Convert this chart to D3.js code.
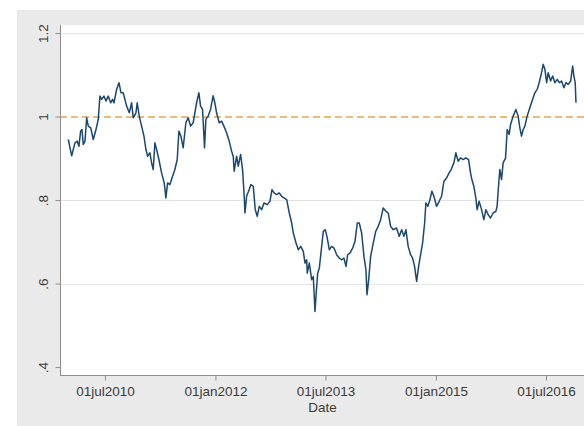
<!DOCTYPE html>
<html>
<head>
<meta charset="utf-8">
<script src="https://cdn.jsdelivr.net/npm/d3@7"></script>
<style>
  html, body { margin: 0; padding: 0; background: #ffffff; }
  svg { display: block; font-family: "Liberation Sans", Arial, sans-serif; }
</style>
</head>
<body>
<svg id="chart" width="584" height="426"></svg>
<script>
// Observation times as fractional years
const obsYears = [
  2009.997, 2010.043, 2010.088, 2010.119, 2010.142, 2010.165, 2010.183, 2010.201, 2010.224, 2010.247,
  2010.269, 2010.302, 2010.337, 2010.374, 2010.405, 2010.428, 2010.451, 2010.482, 2010.510, 2010.541,
  2010.574, 2010.601, 2010.619, 2010.655, 2010.687, 2010.714, 2010.745, 2010.791, 2010.827, 2010.859,
  2010.881, 2010.918, 2010.935, 2010.963, 2010.995, 2011.027, 2011.054, 2011.077, 2011.108, 2011.131,
  2011.153, 2011.176, 2011.199, 2011.231, 2011.267, 2011.303, 2011.326, 2011.349, 2011.380, 2011.417,
  2011.448, 2011.480, 2011.503, 2011.530, 2011.561, 2011.598, 2011.629, 2011.662, 2011.697, 2011.744,
  2011.775, 2011.798, 2011.825, 2011.852, 2011.870, 2011.901, 2011.934, 2011.969, 2011.992, 2012.016,
  2012.051, 2012.084, 2012.115, 2012.152, 2012.187, 2012.220, 2012.242, 2012.255, 2012.288, 2012.310,
  2012.342, 2012.369, 2012.391, 2012.401, 2012.424, 2012.459, 2012.482, 2012.514, 2012.541, 2012.568,
  2012.595, 2012.628, 2012.659, 2012.704, 2012.741, 2012.768, 2012.796, 2012.832, 2012.867, 2012.900,
  2012.931, 2012.968, 2013.003, 2013.036, 2013.058, 2013.095, 2013.126, 2013.159, 2013.194, 2013.217,
  2013.240, 2013.248, 2013.276, 2013.308, 2013.330, 2013.353, 2013.376, 2013.390, 2013.412, 2013.444,
  2013.466, 2013.493, 2013.520, 2013.548, 2013.580, 2013.612, 2013.648, 2013.684, 2013.716, 2013.748,
  2013.775, 2013.798, 2013.829, 2013.866, 2013.898, 2013.929, 2013.956, 2013.988, 2014.020, 2014.047,
  2014.061, 2014.084, 2014.111, 2014.146, 2014.180, 2014.214, 2014.247, 2014.282, 2014.319, 2014.350,
  2014.383, 2014.418, 2014.464, 2014.500, 2014.533, 2014.564, 2014.591, 2014.622, 2014.655, 2014.682,
  2014.709, 2014.737, 2014.764, 2014.791, 2014.818, 2014.846, 2014.863, 2014.890, 2014.918, 2014.945,
  2014.972, 2015.009, 2015.044, 2015.077, 2015.108, 2015.145, 2015.180, 2015.207, 2015.244, 2015.271,
  2015.303, 2015.335, 2015.371, 2015.407, 2015.444, 2015.471, 2015.489, 2015.516, 2015.543, 2015.561,
  2015.588, 2015.621, 2015.652, 2015.680, 2015.711, 2015.743, 2015.779, 2015.816, 2015.833, 2015.852,
  2015.870, 2015.893, 2015.915, 2015.948, 2015.970, 2015.997, 2016.016, 2016.051, 2016.088, 2016.119,
  2016.142, 2016.165, 2016.187, 2016.210, 2016.241, 2016.278, 2016.315, 2016.346, 2016.378, 2016.404,
  2016.437, 2016.459, 2016.482, 2016.506, 2016.527, 2016.560, 2016.587, 2016.618, 2016.650, 2016.677,
  2016.709, 2016.740, 2016.768, 2016.799, 2016.832, 2016.859, 2016.876, 2016.894, 2016.904
];

// Index level at each observation
const indexValues = [
  0.945, 0.906, 0.937, 0.941, 0.929, 0.965, 0.969, 0.933, 0.941, 0.997,
  0.977, 0.973, 0.945, 0.969, 0.993, 1.049, 1.041, 1.049, 1.037, 1.049,
  1.033, 1.041, 1.033, 1.065, 1.081, 1.057, 1.057, 1.025, 1.009, 1.033,
  0.997, 1.009, 1.033, 1.001, 0.977, 0.953, 0.921, 0.905, 0.913, 0.889,
  0.873, 0.937, 0.921, 0.897, 0.865, 0.841, 0.805, 0.841, 0.837, 0.857,
  0.873, 0.897, 0.965, 0.953, 0.925, 0.985, 0.997, 0.977, 0.985, 1.033,
  1.057, 1.025, 1.017, 0.925, 0.993, 1.001, 1.017, 1.050, 1.033, 1.009,
  0.985, 0.989, 0.977, 0.961, 0.941, 0.917, 0.905, 0.869, 0.905, 0.881,
  0.909, 0.873, 0.809, 0.769, 0.809, 0.825, 0.837, 0.833, 0.777, 0.761,
  0.785, 0.777, 0.793, 0.789, 0.797, 0.825, 0.817, 0.813, 0.817, 0.809,
  0.805, 0.801, 0.769, 0.745, 0.721, 0.697, 0.681, 0.689, 0.677, 0.649,
  0.657, 0.625, 0.649, 0.609, 0.617, 0.533, 0.593, 0.625, 0.637, 0.689,
  0.725, 0.729, 0.709, 0.681, 0.689, 0.685, 0.669, 0.661, 0.657, 0.661,
  0.641, 0.669, 0.673, 0.685, 0.701, 0.745, 0.745, 0.721, 0.665, 0.633,
  0.573, 0.609, 0.665, 0.697, 0.725, 0.737, 0.753, 0.781, 0.773, 0.769,
  0.737, 0.729, 0.733, 0.713, 0.729, 0.713, 0.729, 0.689, 0.669, 0.661,
  0.641, 0.605, 0.641, 0.669, 0.697, 0.745, 0.793, 0.785, 0.801, 0.821,
  0.809, 0.785, 0.797, 0.809, 0.845, 0.853, 0.865, 0.873, 0.889, 0.913,
  0.893, 0.901, 0.897, 0.901, 0.897, 0.865, 0.849, 0.833, 0.805, 0.777,
  0.797, 0.777, 0.753, 0.777, 0.765, 0.757, 0.769, 0.773, 0.785, 0.833,
  0.873, 0.849, 0.889, 0.901, 0.969, 0.957, 0.981, 1.001, 1.017, 1.001,
  0.973, 0.953, 0.969, 0.977, 1.001, 1.021, 1.041, 1.057, 1.065, 1.081,
  1.105, 1.125, 1.113, 1.081, 1.105, 1.085, 1.097, 1.081, 1.089, 1.081,
  1.085, 1.069, 1.081, 1.077, 1.085, 1.121, 1.097, 1.081, 1.033
];

// Axis ticks and labels
const yTicks = [0.4, 0.6, 0.8, 1.0, 1.2];
const yTickLabels = [".4", ".6", ".8", "1", "1.2"];
const yGridTicks = [0.6, 0.8, 1.2];
const xTickDates = ["2010-07-01", "2012-01-01", "2013-07-01", "2015-01-01", "2016-07-01"];
const xTickLabels = ["01jul2010", "01jan2012", "01jul2013", "01jan2015", "01jul2016"];
const referenceLevel = 1;
const xTitle = "Date";

function yearToDate(y) {
  const yr = Math.floor(y);
  const start = Date.UTC(yr, 0, 1), end = Date.UTC(yr + 1, 0, 1);
  return new Date(start + (y - yr) * (end - start));
}

const data = obsYears.map((t, i) => ({ date: yearToDate(t), value: indexValues[i] }));

const svg = d3.select("#chart");
const W = 584, H = 426;

// Graph region (light gray) and plot region (white)
const graphBox = { left: 17, top: 10 };
const plot = { left: 60, top: 25, right: 600, bottom: 375 };

svg.append("rect")
  .attr("x", graphBox.left).attr("y", graphBox.top)
  .attr("width", W - graphBox.left + 20).attr("height", H - graphBox.top + 20)
  .attr("fill", "#eaeaea");

svg.append("rect")
  .attr("x", plot.left).attr("y", plot.top)
  .attr("width", plot.right - plot.left).attr("height", plot.bottom - plot.top)
  .attr("fill", "#ffffff");

const x = d3.scaleUtc()
  .domain([yearToDate(2009.884), yearToDate(2017.231)])
  .range([plot.left, plot.right]);

const y = d3.scaleLinear()
  .domain([0.381, 1.2192])
  .range([plot.bottom, plot.top]);

// Horizontal grid lines
svg.append("g").selectAll("line")
  .data(yGridTicks)
  .join("line")
  .attr("x1", plot.left).attr("x2", plot.right)
  .attr("y1", d => Math.round(y(d)) + 0.5).attr("y2", d => Math.round(y(d)) + 0.5)
  .attr("stroke", "#e3e3e3").attr("stroke-width", 1);

// Reference line at 1
svg.append("line")
  .attr("x1", plot.left).attr("x2", plot.right)
  .attr("y1", Math.round(y(referenceLevel))).attr("y2", Math.round(y(referenceLevel)))
  .attr("stroke", "#e2a451").attr("stroke-width", 1.6)
  .attr("stroke-dasharray", "7,4");

// Y axis
const yAxis = d3.axisLeft(y)
  .tickValues(yTicks)
  .tickFormat((d, i) => yTickLabels[i])
  .tickSize(5).tickSizeOuter(0).tickPadding(4);

const gy = svg.append("g")
  .attr("transform", `translate(${plot.left + 0.5},0)`)
  .call(yAxis);
gy.select(".domain").attr("d", `M0,${plot.top}V${plot.bottom}`).attr("stroke", "#8c8c8c");
gy.selectAll(".tick line").attr("stroke", "#8c8c8c");
gy.selectAll(".tick text")
  .attr("fill", "#3a3a3a")
  .style("font-size", "13.5px")
  .attr("text-anchor", "middle")
  .attr("x", null).attr("dy", null)
  .attr("transform", "translate(-17,0) rotate(-90)")
  .attr("dy", "0.35em");

// X axis
const xAxis = d3.axisBottom(x)
  .tickValues(xTickDates.map(s => new Date(s + "T00:00:00Z")))
  .tickFormat((d, i) => xTickLabels[i])
  .tickSize(5).tickSizeOuter(0).tickPadding(6);

const gx = svg.append("g")
  .attr("transform", `translate(0,${plot.bottom + 0.5})`)
  .call(xAxis);
gx.select(".domain").attr("d", `M${plot.left},0H${plot.right}`).attr("stroke", "#8c8c8c");
gx.selectAll(".tick line").attr("stroke", "#8c8c8c");
gx.selectAll(".tick text")
  .attr("fill", "#3a3a3a")
  .style("font-size", "13.5px");

svg.append("text")
  .attr("x", (x(new Date("2013-07-01T00:00:00Z")) - 3))
  .attr("y", 412)
  .attr("text-anchor", "middle")
  .attr("fill", "#3a3a3a")
  .style("font-size", "13.5px")
  .text(xTitle);

// Series line
const line = d3.line()
  .x(d => x(d.date))
  .y(d => y(d.value));

svg.append("path")
  .datum(data)
  .attr("fill", "none")
  .attr("stroke", "#1a476f")
  .attr("stroke-width", 1.5)
  .attr("stroke-linejoin", "round")
  .attr("d", line);
</script>
</body>
</html>
